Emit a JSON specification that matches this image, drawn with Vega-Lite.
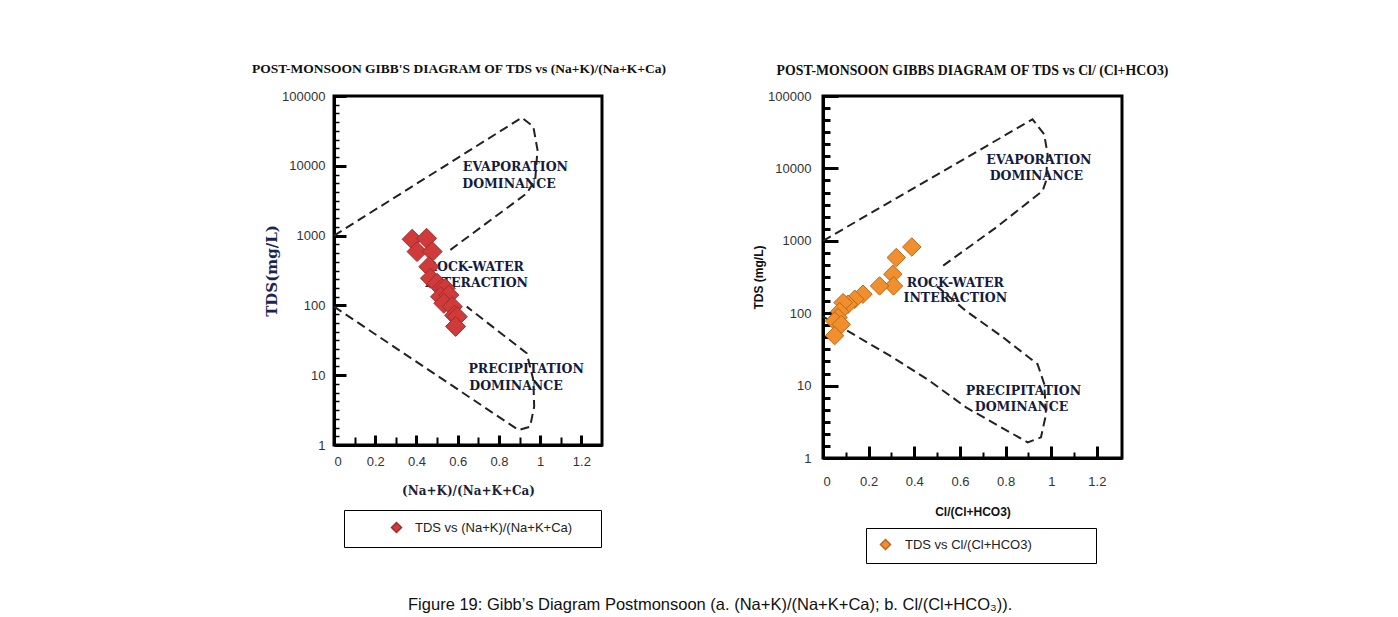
{
  "$schema": "https://vega.github.io/schema/vega-lite/v6.json",
  "background": "white",
  "padding": {"left": 250, "top": 60, "right": 10, "bottom": 5},
  "title": {"text": "Figure 19: Gibb’s Diagram Postmonsoon (a. (Na+K)/(Na+K+Ca); b. Cl/(Cl+HCO₃)).", "orient": "bottom", "anchor": "middle", "font": "Liberation Sans", "fontSize": 16.5, "fontWeight": "normal", "color": "#111", "offset": 32},
  "datasets": {
    "ptsL": [
      {"x": 0.379, "y": 885, "series": "TDS vs (Na+K)/(Na+K+Ca)"},
      {"x": 0.449, "y": 915, "series": "TDS vs (Na+K)/(Na+K+Ca)"},
      {"x": 0.403, "y": 590, "series": "TDS vs (Na+K)/(Na+K+Ca)"},
      {"x": 0.476, "y": 590, "series": "TDS vs (Na+K)/(Na+K+Ca)"},
      {"x": 0.46, "y": 359, "series": "TDS vs (Na+K)/(Na+K+Ca)"},
      {"x": 0.468, "y": 245, "series": "TDS vs (Na+K)/(Na+K+Ca)"},
      {"x": 0.5, "y": 207, "series": "TDS vs (Na+K)/(Na+K+Ca)"},
      {"x": 0.522, "y": 174, "series": "TDS vs (Na+K)/(Na+K+Ca)"},
      {"x": 0.54, "y": 176, "series": "TDS vs (Na+K)/(Na+K+Ca)"},
      {"x": 0.517, "y": 133, "series": "TDS vs (Na+K)/(Na+K+Ca)"},
      {"x": 0.557, "y": 141, "series": "TDS vs (Na+K)/(Na+K+Ca)"},
      {"x": 0.533, "y": 107, "series": "TDS vs (Na+K)/(Na+K+Ca)"},
      {"x": 0.574, "y": 96, "series": "TDS vs (Na+K)/(Na+K+Ca)"},
      {"x": 0.585, "y": 72, "series": "TDS vs (Na+K)/(Na+K+Ca)"},
      {"x": 0.598, "y": 69, "series": "TDS vs (Na+K)/(Na+K+Ca)"},
      {"x": 0.59, "y": 50, "series": "TDS vs (Na+K)/(Na+K+Ca)"}
    ],
    "ptsR": [
      {"x": 0.389, "y": 822, "series": "TDS vs Cl/(Cl+HCO3)"},
      {"x": 0.321, "y": 587, "series": "TDS vs Cl/(Cl+HCO3)"},
      {"x": 0.306, "y": 345, "series": "TDS vs Cl/(Cl+HCO3)"},
      {"x": 0.309, "y": 238, "series": "TDS vs Cl/(Cl+HCO3)"},
      {"x": 0.248, "y": 238, "series": "TDS vs Cl/(Cl+HCO3)"},
      {"x": 0.175, "y": 183, "series": "TDS vs Cl/(Cl+HCO3)"},
      {"x": 0.139, "y": 156, "series": "TDS vs Cl/(Cl+HCO3)"},
      {"x": 0.110, "y": 133, "series": "TDS vs Cl/(Cl+HCO3)"},
      {"x": 0.088, "y": 140, "series": "TDS vs Cl/(Cl+HCO3)"},
      {"x": 0.073, "y": 105, "series": "TDS vs Cl/(Cl+HCO3)"},
      {"x": 0.066, "y": 87, "series": "TDS vs Cl/(Cl+HCO3)"},
      {"x": 0.051, "y": 78, "series": "TDS vs Cl/(Cl+HCO3)"},
      {"x": 0.080, "y": 70, "series": "TDS vs Cl/(Cl+HCO3)"},
      {"x": 0.051, "y": 49, "series": "TDS vs Cl/(Cl+HCO3)"}
    ],
    "linesL": [
      {"curve": "upper", "i": 0, "x": 0, "y": 1000},
      {"curve": "upper", "i": 1, "x": 0.911, "y": 49000},
      {"curve": "upper", "i": 2, "x": 0.967, "y": 36300},
      {"curve": "upper", "i": 3, "x": 0.987, "y": 16900},
      {"curve": "upper", "i": 4, "x": 0.976, "y": 6300},
      {"curve": "upper", "i": 5, "x": 0.935, "y": 4030},
      {"curve": "upper", "i": 6, "x": 0.563, "y": 620},
      {"curve": "lower", "i": 0, "x": 0, "y": 96},
      {"curve": "lower", "i": 1, "x": 0.895, "y": 1.64},
      {"curve": "lower", "i": 2, "x": 0.951, "y": 1.83},
      {"curve": "lower", "i": 3, "x": 0.971, "y": 3.54},
      {"curve": "lower", "i": 4, "x": 0.967, "y": 8.5},
      {"curve": "lower", "i": 5, "x": 0.935, "y": 20.6},
      {"curve": "lower", "i": 6, "x": 0.644, "y": 96}
    ],
    "linesR": [
      {"curve": "upper", "i": 0, "x": 0, "y": 1000},
      {"curve": "upper", "i": 1, "x": 0.918, "y": 47600},
      {"curve": "upper", "i": 2, "x": 0.969, "y": 29600},
      {"curve": "upper", "i": 3, "x": 0.984, "y": 15700},
      {"curve": "upper", "i": 4, "x": 0.977, "y": 6700},
      {"curve": "upper", "i": 5, "x": 0.962, "y": 4890},
      {"curve": "upper", "i": 6, "x": 0.758, "y": 1525},
      {"curve": "upper", "i": 7, "x": 0.525, "y": 451},
      {"curve": "lower", "i": 0, "x": 0, "y": 90},
      {"curve": "lower", "i": 1, "x": 0.306, "y": 24.5},
      {"curve": "lower", "i": 2, "x": 0.466, "y": 11.7},
      {"curve": "lower", "i": 3, "x": 0.627, "y": 5.0},
      {"curve": "lower", "i": 4, "x": 0.897, "y": 1.64},
      {"curve": "lower", "i": 5, "x": 0.955, "y": 1.93},
      {"curve": "lower", "i": 6, "x": 0.977, "y": 4.0},
      {"curve": "lower", "i": 7, "x": 0.969, "y": 10.6},
      {"curve": "lower", "i": 8, "x": 0.94, "y": 19.8},
      {"curve": "lower", "i": 9, "x": 0.787, "y": 46.8},
      {"curve": "lower", "i": 10, "x": 0.627, "y": 107},
      {"curve": "lower", "i": 11, "x": 0.488, "y": 252}
    ],
    "textL": [
      {"label": "EVAPORATION", "x": 0.88, "y": 9550},
      {"label": "DOMINANCE", "x": 0.849, "y": 5500},
      {"label": "ROCK-WATER", "x": 0.685, "y": 359},
      {"label": "INTERACTION", "x": 0.69, "y": 207},
      {"label": "PRECIPITATION", "x": 0.932, "y": 12.3},
      {"label": "DOMINANCE", "x": 0.883, "y": 7.0}
    ],
    "textR": [
      {"label": "EVAPORATION", "x": 0.946, "y": 13200},
      {"label": "DOMINANCE", "x": 0.935, "y": 7970},
      {"label": "ROCK-WATER", "x": 0.58, "y": 259},
      {"label": "INTERACTION", "x": 0.58, "y": 161},
      {"label": "PRECIPITATION", "x": 0.878, "y": 8.3},
      {"label": "DOMINANCE", "x": 0.87, "y": 5.0}
    ]
  },
  "bounds": "flush",
  "spacing": 221,
  "resolve": {"scale": {"x": "independent", "y": "independent", "color": "independent"}, "legend": {"color": "independent"}},
  "hconcat": [
    {
      "width": 268,
      "height": 349,
      "title": {"text": "POST-MONSOON GIBB'S DIAGRAM OF TDS vs (Na+K)/(Na+K+Ca)", "font": "Liberation Serif", "fontSize": 13.5, "fontWeight": "bold", "color": "#111", "offset": 15, "dx": -9, "anchor": "middle"},
      "encoding": {
        "x": {"field": "x", "type": "quantitative", "scale": {"domain": [0, 1.3], "nice": false, "zero": false},
          "axis": {"title": "(Na+K)/(Na+K+Ca)", "titleFont": "DejaVu Serif", "titleFontSize": 12, "titleFontWeight": "bold", "titleColor": "#1a1f3a", "titlePadding": 17,
            "values": [0, 0.1, 0.2, 0.3, 0.4, 0.5, 0.6, 0.7, 0.8, 0.9, 1, 1.1, 1.2], "format": "~g",
            "labelExpr": "round(datum.value*10) % 2 == 0 ? datum.label : ''",
            "tickSize": {"condition": {"test": "round(datum.value*10) % 2 == 0", "value": -10}, "value": -8},
            "tickWidth": {"condition": {"test": "round(datum.value*10) % 2 == 0", "value": 3}, "value": 2},
            "labelPadding": 20}},
        "y": {"field": "y", "type": "quantitative", "scale": {"type": "log", "domain": [1, 100000], "nice": false},
          "axis": {"title": "TDS(mg/L)", "titleFont": "DejaVu Serif", "titleFontSize": 15, "titleFontWeight": "bold", "titleColor": "#1a2550", "titlePadding": 2,
            "values": [1, 1.334, 1.778, 2.371, 3.162, 4.217, 5.623, 7.499, 10, 13.34, 17.78, 23.71, 31.62, 42.17, 56.23, 74.99, 100, 133.4, 177.8, 237.1, 316.2, 421.7, 562.3, 749.9, 1000, 1334, 1778, 2371, 3162, 4217, 5623, 7499, 10000, 13335, 17783, 23714, 31623, 42170, 56234, 74989, 100000],
            "format": "d",
            "labelExpr": "indexof([1,10,100,1000,10000,100000], datum.value) >= 0 ? datum.label : ''",
            "tickSize": {"condition": {"test": "indexof([1,10,100,1000,10000,100000], datum.value) >= 0", "value": -12}, "value": -5},
            "tickWidth": {"condition": {"test": "indexof([1,10,100,1000,10000,100000], datum.value) >= 0", "value": 3}, "value": 1.5},
            "labelPadding": 21}}
      },
      "layer": [
        {"data": {"name": "textL"}, "mark": {"type": "text", "font": "DejaVu Serif", "fontSize": 12.5, "fontWeight": "bold", "color": "#141b3c", "align": "center", "baseline": "middle"},
          "encoding": {"text": {"field": "label"}}},
        {"data": {"name": "linesL"}, "mark": {"type": "line", "stroke": "#222", "strokeWidth": 2, "strokeDash": [9, 5]},
          "encoding": {"detail": {"field": "curve"}, "order": {"field": "i", "type": "quantitative"}}},
        {"data": {"name": "ptsL"}, "mark": {"type": "point", "shape": "diamond", "filled": true, "size": 400, "opacity": 1, "stroke": "#a32a2a", "strokeWidth": 1},
          "encoding": {"color": {"field": "series", "type": "nominal", "scale": {"domain": ["TDS vs (Na+K)/(Na+K+Ca)"], "range": ["#cf3b3b"]},
            "legend": {"title": null, "orient": "none", "legendX": 10, "legendY": 414, "strokeColor": "#000", "fillColor": "#fff", "padding": 11,
              "symbolType": "diamond", "symbolSize": 100, "symbolOffset": 35, "labelOffset": 12, "labelFont": "Liberation Sans", "labelFontSize": 13, "labelColor": "#222", "labelLimit": 400,
              "labelExpr": "datum.label + '  \u2800'"}}}}
      ]
    },
    {
      "width": 299,
      "height": 362,
      "title": {"text": "POST-MONSOON GIBBS DIAGRAM OF TDS vs Cl/ (Cl+HCO3)", "font": "Liberation Serif", "fontSize": 13.8, "fontWeight": "bold", "color": "#111", "offset": 12, "anchor": "middle"},
      "encoding": {
        "x": {"field": "x", "type": "quantitative", "scale": {"domain": [0, 1.31], "nice": false, "zero": false},
          "axis": {"title": "Cl/(Cl+HCO3)", "titleFont": "Liberation Sans", "titleFontSize": 12, "titleFontWeight": "bold", "titleColor": "#111", "titlePadding": 18,
            "values": [0, 0.1, 0.2, 0.3, 0.4, 0.5, 0.6, 0.7, 0.8, 0.9, 1, 1.1, 1.2], "format": "~g",
            "labelExpr": "round(datum.value*10) % 2 == 0 ? datum.label : ''",
            "tickSize": {"condition": {"test": "round(datum.value*10) % 2 == 0", "value": -12}, "value": -6},
            "tickWidth": {"condition": {"test": "round(datum.value*10) % 2 == 0", "value": 3}, "value": 2},
            "labelPadding": 29}},
        "y": {"field": "y", "type": "quantitative", "scale": {"type": "log", "domain": [1, 100000], "nice": false},
          "axis": {"title": "TDS (mg/L)", "titleFont": "Liberation Sans", "titleFontSize": 12, "titleFontWeight": "bold", "titleColor": "#111", "titlePadding": 2,
            "values": [1, 1.468, 2.154, 3.162, 4.642, 6.813, 10, 14.68, 21.54, 31.62, 46.42, 68.13, 100, 146.8, 215.4, 316.2, 464.2, 681.3, 1000, 1468, 2154, 3162, 4642, 6813, 10000, 14678, 21544, 31623, 46416, 68129, 100000],
            "format": "d",
            "labelExpr": "indexof([1,10,100,1000,10000,100000], datum.value) >= 0 ? datum.label : ''",
            "tickSize": {"condition": {"test": "indexof([1,10,100,1000,10000,100000], datum.value) >= 0", "value": -15}, "value": -7},
            "tickWidth": {"condition": {"test": "indexof([1,10,100,1000,10000,100000], datum.value) >= 0", "value": 3}, "value": 3},
            "labelPadding": 27}}
      },
      "layer": [
        {"data": {"name": "textR"}, "mark": {"type": "text", "font": "DejaVu Serif", "fontSize": 12.5, "fontWeight": "bold", "color": "#141b3c", "align": "center", "baseline": "middle"},
          "encoding": {"text": {"field": "label"}}},
        {"data": {"name": "linesR"}, "mark": {"type": "line", "stroke": "#222", "strokeWidth": 2, "strokeDash": [9, 5]},
          "encoding": {"detail": {"field": "curve"}, "order": {"field": "i", "type": "quantitative"}}},
        {"data": {"name": "ptsR"}, "mark": {"type": "point", "shape": "diamond", "filled": true, "size": 340, "opacity": 1, "stroke": "#c0661a", "strokeWidth": 1},
          "encoding": {"color": {"field": "series", "type": "nominal", "scale": {"domain": ["TDS vs Cl/(Cl+HCO3)"], "range": ["#ef8f2e"]},
            "legend": {"title": null, "orient": "none", "legendX": 43, "legendY": 432, "strokeColor": "#000", "fillColor": "#fff", "padding": 10,
              "symbolType": "diamond", "symbolSize": 100, "symbolOffset": 3, "labelOffset": 13, "labelFont": "Liberation Sans", "labelFontSize": 13, "labelColor": "#222", "labelLimit": 400,
              "labelExpr": "datum.label + '            \u2800'"}}}}
      ]
    }
  ],
  "config": {
    "view": {"stroke": "#000", "strokeWidth": 3},
    "axis": {"grid": false, "domainColor": "#000", "domainWidth": 3, "tickColor": "#000", "labelFont": "Liberation Sans", "labelFontSize": 13, "labelColor": "#333"}
  }
}
